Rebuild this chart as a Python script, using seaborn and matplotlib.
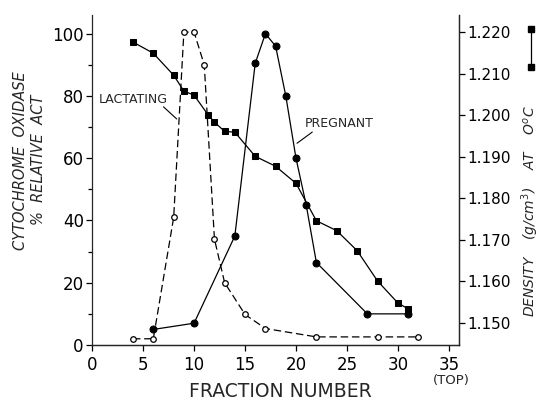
import numpy as np
import pandas as pd
import seaborn as sns
import matplotlib.pyplot as plt

# cytochrome oxidase activity (% relative)
lact_x = [4, 6, 8, 9, 10, 11, 12, 13, 15, 17, 22, 28, 32]
lact_y = [2, 2, 41, 100.5, 100.5, 90, 34, 20, 9.8, 5.3, 2.6, 2.6, 2.6]
preg_x = [6, 10, 14, 16, 17, 18, 19, 20, 21, 22, 27, 31]
preg_y = [5, 7, 35, 90.5, 100, 96, 80, 60, 45, 26.5, 10, 10]

# gradient density (g/cm3)
dens_x = [4, 6, 8, 9, 10, 11.4, 12, 13, 14, 16, 18, 20, 22, 24, 26, 28, 30, 31]
dens_y = [1.2176, 1.2149, 1.2096, 1.2058, 1.2048, 1.2000, 1.1983, 1.1961, 1.1959,
          1.1901, 1.1877, 1.1836, 1.1746, 1.1722, 1.1674, 1.1601, 1.1548, 1.1534]

x_ticks = [0, 5, 10, 15, 20, 25, 30, 35]
left_ticks = [0, 20, 40, 60, 80, 100]
right_ticks = [1.150, 1.160, 1.170, 1.180, 1.190, 1.200, 1.210, 1.220]

sns.set_style("ticks")
plt.rcParams['font.family'] = ['DejaVu Sans']

fig = plt.figure(figsize=(5.42, 4.0), dpi=100)
ax = fig.add_axes([0.170, 0.1375, 0.677, 0.825])
ax2 = ax.twinx()

lact = pd.DataFrame({'x': lact_x, 'y': lact_y})
preg = pd.DataFrame({'x': preg_x, 'y': preg_y})
dens = pd.DataFrame({'x': dens_x, 'y': dens_y})

sns.lineplot(data=lact, x='x', y='y', ax=ax, color='black', lw=0.9,
             linestyle=(0, (6, 3)), marker='o', markersize=4,
             markerfacecolor='white', markeredgecolor='black', markeredgewidth=0.9,
             estimator=None, sort=False)
sns.lineplot(data=preg, x='x', y='y', ax=ax, color='black', lw=0.9,
             marker='o', markersize=5, markerfacecolor='black',
             markeredgecolor='black', estimator=None, sort=False)
sns.lineplot(data=dens, x='x', y='y', ax=ax2, color='black', lw=0.9,
             marker='s', markersize=5, markerfacecolor='black',
             markeredgecolor='black', estimator=None, sort=False)

ax.set_xlim(0, 36)
ax.set_ylim(0, 106)
ax2.set_ylim(1.1447, 1.2241)

ax.set_xticks(x_ticks)
ax.set_yticks(left_ticks)
ax.set_yticks([10, 30, 50, 70, 90], minor=True)
ax2.set_yticks(right_ticks)
ax2.set_yticklabels(['1.150', '1.160', '1.170', '1.180', '1.190', '1.200', '1.210', '1.220'])

for a in (ax, ax2):
    a.spines['top'].set_visible(False)
    a.tick_params(which='both', direction='out', length=4, width=0.9,
                  labelsize=12, colors='black', pad=2)
    a.tick_params(which='minor', length=3)
    for s in a.spines.values():
        s.set_linewidth(0.9)
ax2.tick_params(labelsize=11)
ax.tick_params(axis='x', pad=4)
ax2.spines['left'].set_visible(False)

ax.set_xlabel('FRACTION NUMBER', fontsize=13.5)
ax.xaxis.set_label_coords(0.512, -0.112)
ax.set_ylabel('CYTOCHROME  OXIDASE\n%  RELATIVE  ACT', fontsize=10.5,
              style='italic', linespacing=1.3)
ax.yaxis.set_label_coords(-0.125, 0.56)
ax2.set_ylabel('DENSITY    (g/cm$^3$)    AT    O$^o$C', fontsize=10,
               style='italic')
ax2.yaxis.set_label_coords(1.165, 0.406)

ax.text(35.2, -11.3, '(TOP)', ha='center', va='center', fontsize=9.5)

ax.text(4.0, 78.7, 'LACTATING', ha='center', va='center', fontsize=9)
ax.annotate('', xy=(8.3, 72.6), xytext=(7.0, 76.5),
            arrowprops=dict(arrowstyle='-', color='black', lw=0.8,
                            shrinkA=0, shrinkB=0))
ax.text(24.2, 71, 'PREGNANT', ha='center', va='center', fontsize=9)
ax.annotate('', xy=(20.1, 64.8), xytext=(21.6, 68.4),
            arrowprops=dict(arrowstyle='-', color='black', lw=0.8,
                            shrinkA=0, shrinkB=0))

# key symbol next to density label
ax2.plot([1.195, 1.195], [0.958, 0.842], transform=ax2.transAxes, color='black',
         lw=0.9, marker='s', markersize=5, clip_on=False)

fig.savefig('out.png', dpi=100)
